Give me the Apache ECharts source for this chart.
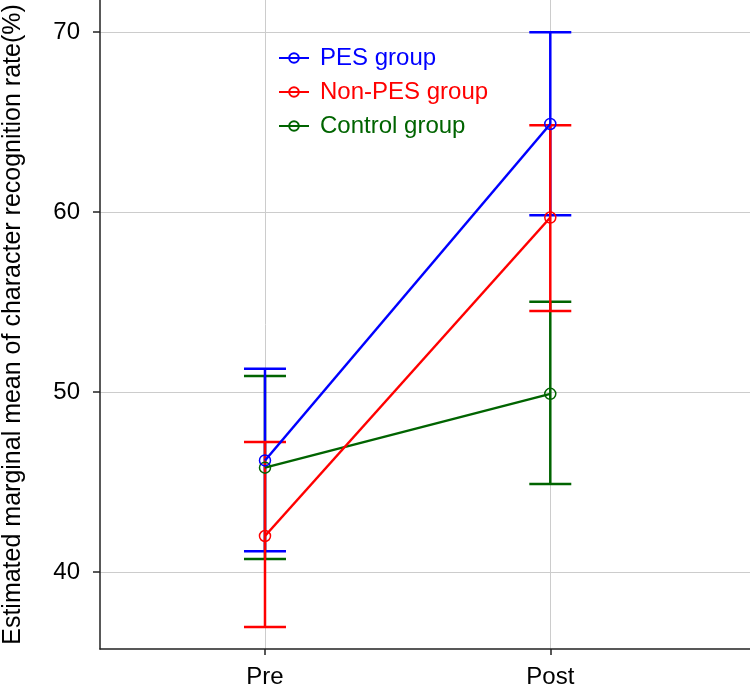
<!DOCTYPE html>
<html>
<head>
<meta charset="utf-8">
<script src="https://cdn.jsdelivr.net/npm/echarts@6/dist/echarts.min.js"></script>
<style>
  html, body { margin: 0; padding: 0; background: #fff; }
  #chart { width: 750px; height: 698px; }
</style>
</head>
<body>
<div id="chart"></div>
<script>
// time points (x positions 1 and 2)
const timepoints = ['Pre', 'Post']
const groups = ['PES group', 'Non-PES group', 'Control group']
const colors = ['#0000FF', '#FF0000', '#006400']

// estimated marginal means and 95% CI
const pesMean = [46.2, 64.9]
const pesLow = [41.15, 59.83]
const pesHigh = [51.3, 70.0]

const nonMean = [42.0, 59.7]
const nonLow = [36.94, 54.5]
const nonHigh = [47.22, 64.83]

const ctlMean = [45.8, 49.9]
const ctlLow = [40.72, 44.89]
const ctlHigh = [50.89, 55.02]

const yTicks = [40, 50, 60, 70]
const xTicks = [1, 2]

const means = [pesMean, nonMean, ctlMean]
const lows = [pesLow, nonLow, ctlLow]
const highs = [pesHigh, nonHigh, ctlHigh]

const font = "'Liberation Sans', Arial, sans-serif"

// error bars: vertical line + caps
const errorBar = (idx) => ({
  type: 'custom',
  name: groups[idx] + ' CI',
  silent: true,
  data: timepoints.map((t, i) => [i + 1, lows[idx][i], highs[idx][i]]),
  renderItem: (params, api) => {
    const lo = api.coord([api.value(0), api.value(1)])
    const hi = api.coord([api.value(0), api.value(2)])
    const half = 21
    const style = { stroke: colors[idx], lineWidth: 2.5 }
    return {
      type: 'group',
      children: [
        { type: 'line', shape: { x1: lo[0], y1: lo[1], x2: hi[0], y2: hi[1] }, style },
        { type: 'line', shape: { x1: lo[0] - half, y1: lo[1], x2: lo[0] + half, y2: lo[1] }, style },
        { type: 'line', shape: { x1: hi[0] - half, y1: hi[1], x2: hi[0] + half, y2: hi[1] }, style }
      ]
    }
  },
  z: 2
})

const meanLine = (idx) => ({
  type: 'line',
  name: groups[idx],
  data: timepoints.map((t, i) => [i + 1, means[idx][i]]),
  symbol: 'circle',
  symbolSize: 11,
  itemStyle: { color: 'rgba(255,255,255,0)', borderColor: colors[idx], borderWidth: 1.5 },
  lineStyle: { color: colors[idx], width: 2.5 },
  emphasis: { disabled: true },
  z: 3
})

const myChart = echarts.init(document.getElementById('chart'))
myChart.setOption({
  animation: false,
  grid: { left: 100, right: 0, top: 0, bottom: 49, outerBoundsMode: 'none' },
  legend: {
    orient: 'vertical',
    left: 278,
    top: 46,
    padding: 0,
    itemWidth: 30,
    itemHeight: 12,
    itemGap: 10,
    data: groups.map((g, i) => ({
      name: g,
      textStyle: { color: colors[i] }
    })),
    textStyle: { fontSize: 24, fontFamily: font, padding: [0, 0, 0, 6] }
  },
  xAxis: {
    type: 'value',
    min: 0.4217,
    max: 2.70,
    axisLine: { lineStyle: { color: '#222', width: 1.5 } },
    axisTick: { customValues: xTicks, length: 6, lineStyle: { color: '#222', width: 1.5 } },
    axisLabel: {
      customValues: xTicks,
      formatter: (v) => timepoints[v - 1],
      fontSize: 24,
      fontFamily: font,
      color: '#000',
      margin: 16
    },
    splitLine: { show: true, lineStyle: { color: '#cccccc', width: 1 } }
  },
  yAxis: {
    type: 'value',
    min: 35.72,
    max: 71.79,
    name: 'Estimated marginal mean of character recognition rate(%)',
    nameLocation: 'middle',
    nameGap: 74,
    nameTextStyle: { fontSize: 25, fontFamily: font, color: '#000' },
    axisLine: { show: true, lineStyle: { color: '#222', width: 1.5 } },
    axisTick: { show: true, customValues: yTicks, length: 7, lineStyle: { color: '#222', width: 1.5 } },
    axisLabel: {
      customValues: yTicks,
      fontSize: 24,
      fontFamily: font,
      color: '#000',
      margin: 20
    },
    splitLine: { show: true, lineStyle: { color: '#cccccc', width: 1 } }
  },
  series: [
    errorBar(2), errorBar(0), errorBar(1),
    meanLine(2), meanLine(0), meanLine(1)
  ]
})
</script>
</body>
</html>
